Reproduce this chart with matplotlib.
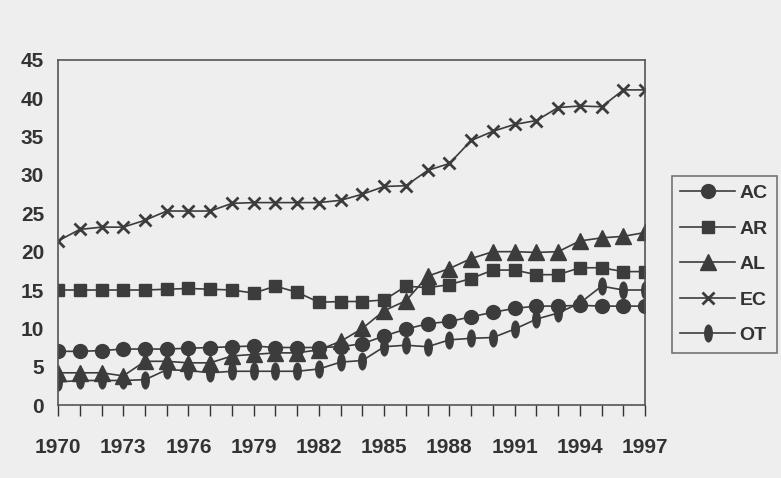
import numpy as np
import matplotlib
matplotlib.use("Agg")
import matplotlib.pyplot as plt
from matplotlib.path import Path

years = list(range(1970, 1998))

AC = [7.0, 7.0, 7.1, 7.3, 7.3, 7.3, 7.4, 7.5, 7.6, 7.7, 7.5, 7.5, 7.5, 7.6,
      8.0, 9.0, 9.9, 10.6, 10.9, 11.5, 12.1, 12.6, 12.9, 12.9, 13.0, 12.9, 12.9, 12.9]
AR = [15.0, 15.0, 15.0, 15.0, 15.0, 15.1, 15.2, 15.1, 15.0, 14.6, 15.5, 14.7, 13.4, 13.5,
      13.5, 13.7, 15.5, 15.3, 15.7, 16.5, 17.6, 17.6, 17.0, 17.0, 17.9, 17.9, 17.4, 17.4]
AL = [4.2, 4.2, 4.2, 3.8, 5.7, 5.7, 5.5, 5.5, 6.4, 6.6, 6.8, 6.8, 7.2, 8.3,
      10.0, 12.3, 13.6, 16.8, 17.8, 19.1, 20.0, 20.0, 19.9, 20.0, 21.4, 21.8, 22.0, 22.5]
EC = [21.4, 22.9, 23.2, 23.2, 24.1, 25.3, 25.3, 25.3, 26.3, 26.4, 26.4, 26.4, 26.4, 26.7,
      27.5, 28.5, 28.6, 30.6, 31.5, 34.5, 35.7, 36.6, 37.1, 38.8, 39.0, 38.9, 41.1, 41.1]
OT = [3.0, 3.2, 3.2, 3.2, 3.3, 4.6, 4.5, 4.2, 4.4, 4.4, 4.4, 4.4, 4.7, 5.6,
      5.8, 7.6, 7.8, 7.6, 8.5, 8.7, 8.8, 9.9, 11.2, 12.0, 13.3, 15.5, 15.0, 15.0]

labels = ["AC", "AR", "AL", "EC", "OT"]
xlabels = [str(y) if (y - 1970) % 3 == 0 else "" for y in years]

bg = "#eeeeee"
ink = "#3c3c3c"

# tall ellipse marker for OT
circ = Path.unit_circle()
oval = Path(circ.vertices * np.array([0.45, 1.0]), circ.codes)

plt.rcParams["font.family"] = ["Liberation Sans", "DejaVu Sans"]
plt.rcParams["font.weight"] = "bold"

fig = plt.figure(figsize=(7.81, 4.78), dpi=100, facecolor=bg)
ax = fig.add_axes([0.0743, 0.1527, 0.7517, 0.7218], facecolor=bg)

ax.plot(years, AC, color=ink, lw=1.2, marker="o", ms=10, label="AC")
ax.plot(years, AR, color=ink, lw=1.2, marker="s", ms=9, label="AR")
ax.plot(years, AL, color=ink, lw=1.2, marker="^", ms=11, label="AL")
ax.plot(years, EC, color=ink, lw=1.2, marker="x", ms=8, mew=2, label="EC")
ax.plot(years, OT, color=ink, lw=1.2, marker=oval, ms=12, label="OT")

ax.set_xlim(1970, 1997)
ax.set_ylim(0, 45)
ax.set_yticks(range(0, 50, 5))
ax.set_xticks(years)
ax.set_xticklabels(xlabels)
ax.tick_params(axis="y", length=0, pad=10, labelsize=15, colors="#333333")
ax.tick_params(axis="x", length=8, width=1, pad=16, labelsize=15,
               colors="#333333", direction="out")
for s in ax.spines.values():
    s.set_color("#555555")
    s.set_linewidth(1.2)

leg = fig.legend(loc="upper left", bbox_to_anchor=(0.860, 0.632), fontsize=14,
                 handlelength=2.8, handletextpad=0.25, labelspacing=0.92,
                 borderpad=0.45, borderaxespad=0, fancybox=False, frameon=True)
leg.get_frame().set_edgecolor("#555555")
leg.get_frame().set_facecolor(bg)
leg.get_frame().set_linewidth(1.2)
for t in leg.get_texts():
    t.set_color("#333333")

fig.savefig("out.png", dpi=100, facecolor=bg)
